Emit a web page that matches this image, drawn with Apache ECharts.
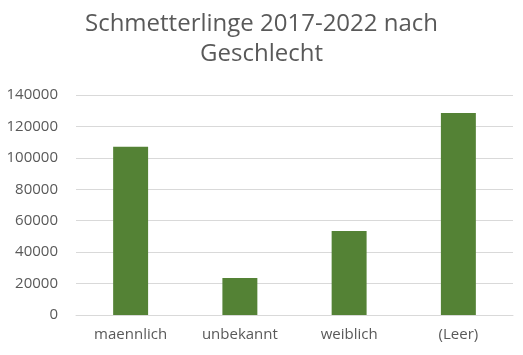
<!DOCTYPE html>
<html>
<head>
<meta charset="utf-8">
<script src="https://cdn.jsdelivr.net/npm/echarts@6/dist/echarts.min.js"></script>
<style>
  html, body { margin: 0; padding: 0; background: #fff; }
  #chart { width: 523px; height: 355px; }
</style>
</head>
<body>
<div id="chart"></div>
<script>
// Daten
const categories = ['maennlich', 'unbekannt', 'weiblich', '(Leer)']
const counts = [107000, 23500, 53500, 128500]
const yTicks = { min: 0, max: 140000, interval: 20000 }

const chart = echarts.init(document.getElementById('chart'))
chart.setOption({
  textStyle: { fontFamily: 'Open Sans' },
  title: {
    text: 'Schmetterlinge 2017-2022 nach\nGeschlecht',
    left: 'center',
    top: 4,
    textStyle: { fontSize: 24, fontWeight: 'normal', color: '#595959', lineHeight: 30, fontFamily: 'Open Sans' }
  },
  grid: { left: 76, right: 10, top: 95, bottom: 40 },
  xAxis: {
    type: 'category',
    data: categories,
    axisLine: { lineStyle: { color: '#d9d9d9', width: 1 } },
    axisTick: { show: false },
    axisLabel: { color: '#595959', fontSize: 15, margin: 12 }
  },
  yAxis: {
    type: 'value',
    min: yTicks.min,
    max: yTicks.max,
    interval: yTicks.interval,
    axisLine: { show: false },
    axisTick: { show: false },
    splitLine: { lineStyle: { color: '#d9d9d9', width: 1 } },
    axisLabel: { color: '#595959', fontSize: 15, margin: 18, formatter: v => String(v) }
  },
  series: [{
    type: 'bar',
    data: counts,
    barWidth: '32%',
    itemStyle: { color: '#548235' }
  }]
})
</script>
</body>
</html>
